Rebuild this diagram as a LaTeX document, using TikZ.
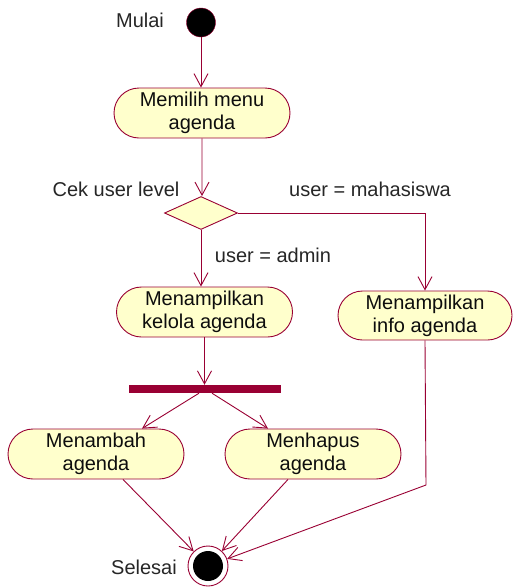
\documentclass[tikz,border=0pt]{standalone}
\usepackage{fontspec}
\setmainfont{Liberation Sans}
\usetikzlibrary{arrows.meta,shapes.misc,shapes.geometric}
\definecolor{umlred}{HTML}{990033}
\definecolor{umlfill}{HTML}{FFFFCC}
\begin{document}
\begin{tikzpicture}[x=1pt,y=-1pt,
 act/.style={rounded rectangle, draw=umlred, fill=umlfill, line width=0.9pt, minimum width=176pt, minimum height=50pt, align=center, font=\fontsize{20}{23}\selectfont, text=black!95, inner sep=0pt},
 flow/.style={draw=umlred, line width=0.9pt, -{Straight Barb[length=13pt,width=14pt,line width=0.9pt]}},
 lbl/.style={font=\fontsize{20}{23}\selectfont, text=black!85}]
\useasboundingbox (0,0) rectangle (513,587);
\node[circle, fill=black, draw=umlred, minimum size=29pt, inner sep=0pt] (start) at (201,22.5) {};
\node[act] (memilih) at (202,113) {Memilih menu\\agenda};
\node[diamond, draw=umlred, fill=umlfill, line width=0.9pt, minimum width=73pt, minimum height=33pt, inner sep=0pt] (dec) at (201,213) {};
\node[act] (kelola) at (204.5,312) {Menampilkan\\kelola agenda};
\node[act, minimum width=174pt, minimum height=49pt] (info) at (425,315.5) {Menampilkan\\info agenda};
\node[fill=umlred, minimum width=152pt, minimum height=8pt, inner sep=0pt] (bar) at (205,389) {};
\node[act] (tambah) at (96,454) {Menambah\\agenda};
\node[act] (hapus) at (313,454) {Menhapus\\agenda};
\node[circle, draw=umlred, line width=0.9pt, minimum size=40pt, inner sep=0pt] (end) at (208,566) {};
\node[circle, fill=black, minimum size=30pt, inner sep=0pt] (endin) at (end) {};
\node[lbl] (lmulai) at (140,20) {Mulai};
\node[lbl] (lsel) at (144,567) {Selesai};
\node[lbl] (lcek) at (116,189) {Cek user level};
\node[lbl] (lmhs) at (370,189) {user = mahasiswa};
\node[lbl] (ladm) at (273,255) {user = admin};
\draw[flow] (start) -- (start |- memilih.north);
\draw[flow] (memilih) -- (memilih |- dec.north);
\draw[flow] (dec.south) -- (dec.south |- kelola.north);
\draw[flow] (dec.east) -| (info.north);
\draw[flow] (kelola.south) -- (kelola.south |- bar.north);
\draw[flow] ([xshift=-6pt]bar.south) -- ([xshift=46pt]tambah.north);
\draw[flow] ([xshift=7pt]bar.south) -- ([xshift=-45pt]hapus.north);
\draw[flow] ([xshift=27pt]tambah.south) -- (end);
\draw[flow] ([xshift=-25pt]hapus.south) -- (end);
\coordinate (bend) at (426,485);
\draw[flow] (info.south) -- (bend) -- (end);
\end{tikzpicture}
\end{document}
